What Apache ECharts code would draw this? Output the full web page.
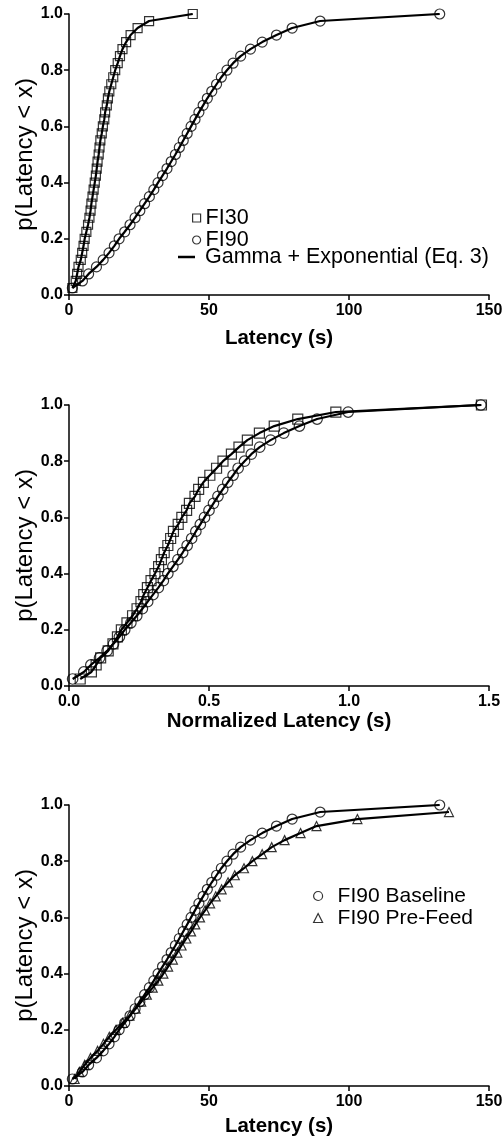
<!DOCTYPE html>
<html>
<head>
<meta charset="utf-8">
<script src="https://cdn.jsdelivr.net/npm/echarts@6/dist/echarts.min.js"></script>
<style>
html,body{margin:0;padding:0;background:#fff;}
#chart{width:504px;height:1139px;}
</style>
</head>
<body>
<div id="chart"></div>
<script>
// Cumulative probability levels
const probs = [0.025,0.05,0.075,0.1,0.125,0.15,0.175,0.2,0.225,0.25,0.275,0.3,0.325,0.35,0.375,0.4,0.425,0.45,0.475,0.5,0.525,0.55,0.575,0.6,0.625,0.65,0.675,0.7,0.725,0.75,0.775,0.8,0.825,0.85,0.875,0.9,0.925,0.95,0.975,1.0];
const probsPreFeed = [0.025,0.05,0.075,0.1,0.125,0.15,0.175,0.2,0.225,0.25,0.275,0.3,0.325,0.35,0.375,0.4,0.425,0.45,0.475,0.5,0.525,0.55,0.575,0.6,0.625,0.65,0.675,0.7,0.725,0.75,0.775,0.8,0.825,0.85,0.875,0.9,0.925,0.95,0.975];

// Latency (s)
const fi30Latency = [1.2,2.4,2.9,3.4,4.2,4.7,5.2,5.6,6.2,6.8,7.3,7.7,8.0,8.4,8.8,9.2,9.6,9.9,10.2,10.6,10.9,11.2,11.7,12.1,12.6,12.9,13.5,13.9,14.4,15.1,15.8,16.5,17.4,18.2,19.1,20.4,22.0,24.5,28.6,44.2];
const fi90Latency = [1.2,4.8,7.0,9.8,12.2,14.3,16.2,17.9,19.9,21.8,23.6,25.3,27.0,28.7,30.3,31.8,33.4,35.0,36.5,38.0,39.4,40.8,42.2,43.6,45.0,46.4,47.9,49.4,51.0,52.7,54.4,56.4,58.6,61.3,64.8,69.0,74.1,79.7,89.7,132.4];
const fi90PreFeedLatency = [2.0,3.7,5.6,7.7,10.2,12.3,14.4,16.8,19.2,21.6,23.8,25.8,27.8,29.9,31.9,33.7,35.4,37.1,38.7,40.2,41.9,43.6,45.1,46.8,48.6,50.4,52.4,54.5,56.8,59.2,62.5,65.5,69.0,72.4,77.0,82.7,88.4,103.0,135.7];

// Normalized latency
const fi30Normalized = [0.040,0.080,0.097,0.113,0.140,0.157,0.173,0.187,0.207,0.227,0.243,0.257,0.267,0.280,0.293,0.307,0.320,0.330,0.340,0.353,0.363,0.373,0.390,0.403,0.420,0.430,0.450,0.463,0.480,0.503,0.527,0.550,0.580,0.607,0.637,0.680,0.733,0.817,0.953,1.473];
const fi90Normalized = [0.013,0.053,0.078,0.109,0.136,0.159,0.180,0.199,0.221,0.242,0.262,0.281,0.300,0.319,0.337,0.353,0.371,0.389,0.406,0.422,0.438,0.453,0.469,0.484,0.500,0.516,0.532,0.549,0.567,0.586,0.604,0.627,0.651,0.681,0.720,0.767,0.823,0.886,0.997,1.471];

// Axis labels
const yTickLabels = ['0.0','0.2','0.4','0.6','0.8','1.0'];
const xTickLatency = ['0','50','100','150'];
const xTickNormalized = ['0.0','0.5','1.0','1.5'];
const yAxisTitle = 'p(Latency < x)';
const xTitles = ['Latency (s)','Normalized Latency (s)','Latency (s)'];

const FONT = "'Liberation Sans', Arial, sans-serif";
const pairs = (xs, ps) => xs.map((x, i) => [x, ps[i]]);

const hollow = {color: 'rgba(0,0,0,0)', borderColor: '#000', borderWidth: 1.2};

function scatter(name, idx, data, symbol, size) {
  return {name, type: 'scatter', xAxisIndex: idx, yAxisIndex: idx, data,
    symbol, symbolSize: size, itemStyle: hollow, z: 3, silent: true};
}
function fitLine(name, idx, data) {
  return {name, type: 'line', xAxisIndex: idx, yAxisIndex: idx, data,
    showSymbol: false, symbol: 'none', lineStyle: {color: '#000', width: 2.2}, itemStyle: {color: '#000'}, z: 2, silent: true};
}

const tops = [14, 405, 805];
const grids = tops.map(t => ({left: 69, right: 15, top: t, height: 281, containLabel: false, outerBoundsMode: 'none'}));
const xNameGaps = [33, 25, 30];

function xAxis(idx, max, interval, labels) {
  return {type: 'value', gridIndex: idx, min: 0, max, interval,
    name: xTitles[idx], nameLocation: 'middle', nameGap: xNameGaps[idx], nameMoveOverlap: false,
    nameTextStyle: {fontFamily: FONT, fontSize: 20.5, fontWeight: 'bold', color: '#000'},
    axisLine: {show: true, onZero: false, lineStyle: {color: '#000', width: 1.5}},
    axisTick: {show: true, length: 5, lineStyle: {color: '#000', width: 1.5}},
    axisLabel: {fontFamily: FONT, fontSize: 16, fontWeight: 'bold', color: '#000', margin: 8,
      formatter: v => labels[Math.round(v / interval)]},
    splitLine: {show: false}};
}
function yAxis(idx) {
  return {type: 'value', gridIndex: idx, min: 0, max: 1, interval: 0.2,
    name: yAxisTitle, nameLocation: 'middle', nameGap: 32, nameRotate: 90, nameMoveOverlap: false,
    nameTextStyle: {fontFamily: FONT, fontSize: 24, color: '#000'},
    axisLine: {show: true, onZero: false, lineStyle: {color: '#000', width: 1.5}},
    axisTick: {show: true, length: 5, lineStyle: {color: '#000', width: 1.5}},
    axisLabel: {fontFamily: FONT, fontSize: 16, fontWeight: 'bold', color: '#000', margin: 6,
      formatter: v => yTickLabels[Math.round(v / 0.2)]},
    splitLine: {show: false}};
}

const fitName = 'Gamma + Exponential (Eq. 3)';

const option = {
  animation: false,
  backgroundColor: '#fff',
  grid: grids,
  xAxis: [xAxis(0, 150, 50, xTickLatency), xAxis(1, 1.5, 0.5, xTickNormalized), xAxis(2, 150, 50, xTickLatency)],
  yAxis: [yAxis(0), yAxis(1), yAxis(2)],
  legend: [
    {orient: 'vertical', left: 192, top: 207, padding: 0, itemWidth: 8, itemHeight: 8, itemGap: 0,
      selectedMode: false,
      textStyle: {fontFamily: FONT, fontSize: 21.5, color: '#000', lineHeight: 20},
      data: [{name: 'FI30', icon: 'rect', itemStyle: hollow}, {name: 'FI90', icon: 'circle', itemStyle: hollow}]},
    {orient: 'vertical', left: 178, top: 246, padding: 0, itemWidth: 17, itemHeight: 2.5, itemGap: 0,
      selectedMode: false,
      textStyle: {fontFamily: FONT, fontSize: 21.5, color: '#000', lineHeight: 20, padding: [0, 0, 0, 5]},
      data: [{name: fitName, icon: 'rect', itemStyle: {color: '#000'}}]},
    {orient: 'vertical', left: 313, top: 885, padding: 0, itemWidth: 9, itemHeight: 9, itemGap: 0,
      selectedMode: false,
      textStyle: {fontFamily: FONT, fontSize: 21, color: '#000', lineHeight: 22, padding: [0, 0, 0, 10]},
      data: [{name: 'FI90 Baseline', icon: 'circle', itemStyle: hollow}, {name: 'FI90 Pre-Feed', icon: 'triangle', itemStyle: hollow}]}
  ],
  series: [
    fitLine(fitName, 0, pairs(fi30Latency, probs)),
    fitLine(fitName, 0, pairs(fi90Latency, probs)),
    scatter('FI30', 0, pairs(fi30Latency, probs), 'rect', 9),
    scatter('FI90', 0, pairs(fi90Latency, probs), 'circle', 10),

    fitLine('FI30 normalized fit', 1, pairs(fi30Normalized, probs)),
    fitLine('FI90 normalized fit', 1, pairs(fi90Normalized, probs)),
    scatter('FI30 normalized', 1, pairs(fi30Normalized, probs), 'rect', 10),
    scatter('FI90 normalized', 1, pairs(fi90Normalized, probs), 'circle', 10.5),

    fitLine('FI90 Baseline fit', 2, pairs(fi90Latency, probs)),
    fitLine('FI90 Pre-Feed fit', 2, pairs(fi90PreFeedLatency, probsPreFeed)),
    scatter('FI90 Baseline', 2, pairs(fi90Latency, probs), 'circle', 10),
    scatter('FI90 Pre-Feed', 2, pairs(fi90PreFeedLatency, probsPreFeed), 'triangle', 9)
  ]
};

const chart = echarts.init(document.getElementById('chart'), null, {renderer: 'canvas'});
chart.setOption(option);
</script>
</body>
</html>
